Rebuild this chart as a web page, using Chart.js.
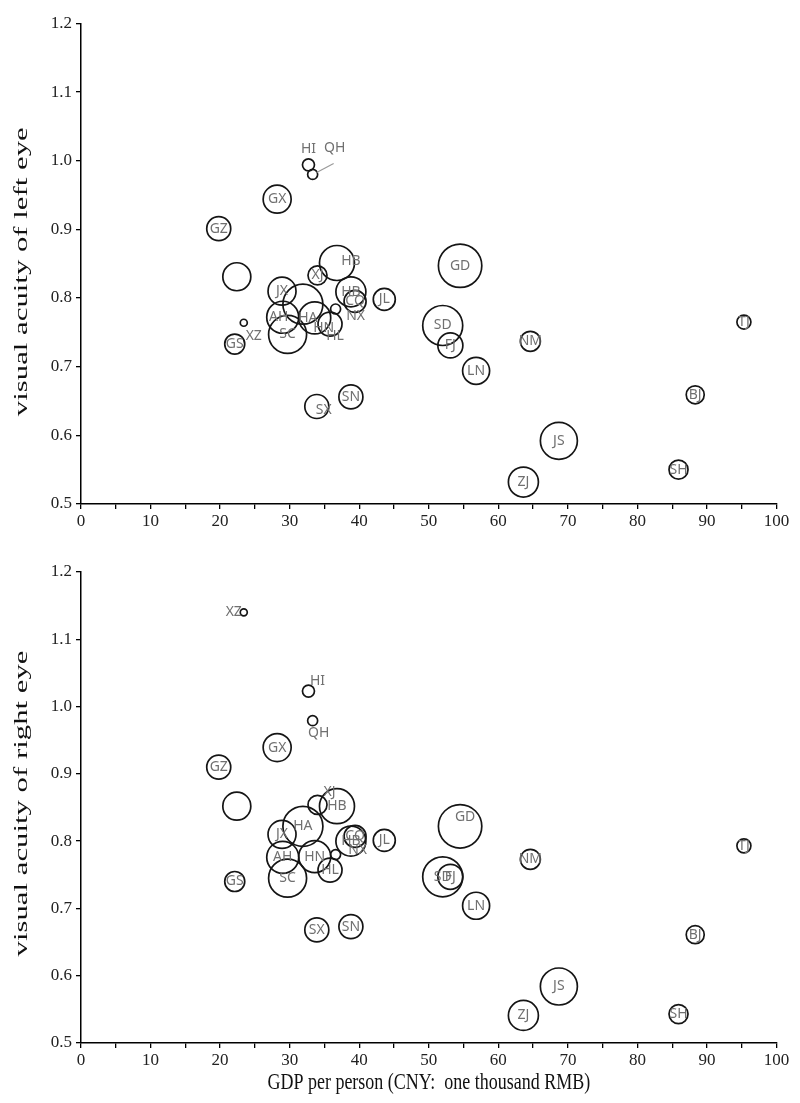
<!DOCTYPE html>
<html>
<head>
<meta charset="utf-8">
<script src="https://cdn.jsdelivr.net/npm/chart.js@4.4.1/dist/chart.umd.min.js"></script>
<style>
  html, body { margin: 0; padding: 0; background: #fff; }
  #wrap { position: relative; width: 800px; height: 1103px; }
  canvas { position: absolute; left: 0; }
</style>
</head>
<body>
<div id="wrap">
  <canvas id="leftChart" width="800" height="540" style="top:0"></canvas>
  <canvas id="rightChart" width="800" height="563" style="top:540px"></canvas>
</div>
<script>
// province codes ('' = unlabeled bubble)
const provinces = ['BJ', 'TJ', 'HB', 'SX', 'NM', 'LN', 'JL', 'HL', 'SH', 'JS', 'ZJ', 'AH', 'FJ', 'JX', 'SD', 'HA',
  'HB', 'HN', 'GD', 'GX', 'HI', 'CQ', 'SC', 'GZ', '', 'XZ', 'SN', 'GS', 'QH', 'NX', 'XJ']
// GDP per person, thousand RMB
const gdp = [88.3, 95.3, 38.8, 33.9, 64.6, 56.8, 43.6, 35.8, 85.9, 68.7, 63.6, 29.0, 53.1, 28.9, 52.0, 31.9,
  36.8, 33.6, 54.5, 28.2, 32.7, 39.4, 29.7, 19.8, 22.4, 23.4, 38.8, 22.1, 33.3, 36.6, 34.0]
const leftEye = [0.659, 0.765, 0.809, 0.642, 0.737, 0.694, 0.798, 0.762, 0.550, 0.592, 0.532, 0.772, 0.731, 0.810, 0.760, 0.791,
  0.851, 0.771, 0.847, 0.944, 0.994, 0.795, 0.747, 0.901, 0.831, 0.764, 0.656, 0.733, 0.980, 0.784, 0.833]
const rightEye = [0.661, 0.793, 0.800, 0.668, 0.773, 0.704, 0.801, 0.757, 0.543, 0.584, 0.541, 0.776, 0.747, 0.810, 0.747, 0.822,
  0.852, 0.777, 0.822, 0.939, 1.023, 0.807, 0.745, 0.910, 0.852, 1.14, 0.673, 0.740, 0.979, 0.780, 0.854]
// bubble size (sample weight)
const sizes = [9, 7, 15, 12, 10, 13.5, 11, 12, 9.5, 18.5, 15, 16, 12.5, 14, 20, 20,
  17.5, 16, 21.7, 14, 6, 11, 19, 12, 14, 3.5, 12, 10, 5, 5, 9.5]
const xTicks = { min: 0, max: 100, step: 5, labelEvery: 10 }
const yTicks = { min: 0.5, max: 1.2, step: 0.1 }

// label placement relative to bubble centre
const leftLabelOffsets = {
  HI: [0, -16], QH: [22, -26], XZ: [10, 13], NX: [20, 7], HA: [5, 14], HN: [9, 10], HL: [5, 12],
  SX: [7, 4], AH: [-4, 0]
}
const leftHubeiOffset = [14, -2]
const leftLeaders = { QH: [4, -2, 21, -11] }
const rightLabelOffsets = {
  HI: [9, -10], QH: [6, 12], XJ: [12, -13], XZ: [-10, 0], GD: [5, -9], NX: [22, -5]
}

const serif = '"Liberation Serif", "Times New Roman", serif'

const bubbleLabels = {
  id: 'bubbleLabels',
  afterDatasetsDraw(chart, args, opts) {
    const ctx = chart.ctx
    const meta = chart.getDatasetMeta(0)
    ctx.save()
    ctx.font = '14px "Noto Sans", sans-serif'
    ctx.textAlign = 'center'
    ctx.textBaseline = 'middle'
    meta.data.forEach((el, i) => {
      const name = provinces[i]
      if (!name) return
      let off = opts.offsets[name] || [0, 0]
      // the Hubei bubble (index 16) in the left chart has its label pushed right
      if (opts.hubei && i === 16) off = opts.hubei
      const lead = opts.leaders && opts.leaders[name]
      if (lead) {
        ctx.strokeStyle = '#9a9a9a'
        ctx.lineWidth = 1.2
        ctx.beginPath()
        ctx.moveTo(el.x + lead[0], el.y + lead[1])
        ctx.lineTo(el.x + lead[2], el.y + lead[3])
        ctx.stroke()
      }
      ctx.fillStyle = '#707070'
      ctx.fillText(name, el.x + off[0], el.y + off[1])
    })
    ctx.restore()
  }
}

// axis titles, drawn with the figure's vertical stretch
const axisTitles = {
  id: 'axisTitles',
  afterDraw(chart, args, opts) {
    const ctx = chart.ctx
    const area = chart.chartArea
    ctx.save()
    ctx.fillStyle = '#111'
    ctx.textAlign = 'center'
    ctx.textBaseline = 'middle'
    ctx.font = '19px ' + serif
    ctx.save()
    ctx.translate(22, (area.top + area.bottom) / 2 + opts.yShift)
    ctx.rotate(-Math.PI / 2)
    ctx.scale(1.62, 1)
    ctx.fillText(opts.yText, 0, 0)
    ctx.restore()
    if (opts.xText) {
      ctx.font = '18px ' + serif
      ctx.translate((area.left + area.right) / 2, area.bottom + 40)
      ctx.scale(1, 1.25)
      ctx.fillText(opts.xText, 0, 0)
    }
    ctx.restore()
  }
}

function makeChart(id, values, titles, padTop, xHeight, labelOpts) {
  const points = gdp.map((g, i) => ({ x: g, y: values[i], r: sizes[i] }))
  return new Chart(document.getElementById(id), {
    type: 'bubble',
    data: {
      datasets: [{
        data: points,
        backgroundColor: 'rgba(0,0,0,0)',
        borderColor: '#151515',
        borderWidth: 1.7,
        hoverBorderWidth: 1.7,
        hoverRadius: 0,
        clip: false
      }]
    },
    options: {
      responsive: false,
      devicePixelRatio: 1,
      animation: false,
      events: [],
      layout: { padding: { top: padTop, right: 18, left: 0, bottom: 0 } },
      plugins: {
        legend: { display: false },
        tooltip: { enabled: false },
        bubbleLabels: labelOpts,
        axisTitles: titles
      },
      scales: {
        x: {
          type: 'linear',
          min: xTicks.min,
          max: xTicks.max,
          afterFit: (s) => { s.height = xHeight },
          border: { display: true, color: '#000', width: 1.5 },
          grid: { display: true, drawOnChartArea: false, drawTicks: true, tickLength: 5, color: '#000', lineWidth: 1.3 },
          ticks: {
            stepSize: xTicks.step,
            autoSkip: false,
            maxRotation: 0,
            padding: 2,
            color: '#222',
            font: { family: serif, size: 17 },
            callback: (v) => (v % xTicks.labelEvery === 0 ? v : '')
          }
        },
        y: {
          type: 'linear',
          min: yTicks.min,
          max: yTicks.max,
          afterFit: (s) => { s.width = 81 },
          border: { display: true, color: '#000', width: 1.5 },
          grid: { display: true, drawOnChartArea: false, drawTicks: true, tickLength: 5, color: '#000', lineWidth: 1.3 },
          ticks: {
            stepSize: yTicks.step,
            padding: 4,
            color: '#222',
            font: { family: serif, size: 17 },
            callback: (v) => v.toFixed(1)
          }
        }
      }
    },
    plugins: [bubbleLabels, axisTitles]
  })
}

makeChart('leftChart', leftEye, { yText: 'visual acuity of left eye', yShift: 8 }, 10, 36,
  { offsets: leftLabelOffsets, hubei: leftHubeiOffset, leaders: leftLeaders })
makeChart('rightChart', rightEye,
  { yText: 'visual acuity of right eye', yShift: -4, xText: 'GDP per person (CNY:  one thousand RMB)' }, 32, 60,
  { offsets: rightLabelOffsets, leaders: {} })
</script>
</body>
</html>
